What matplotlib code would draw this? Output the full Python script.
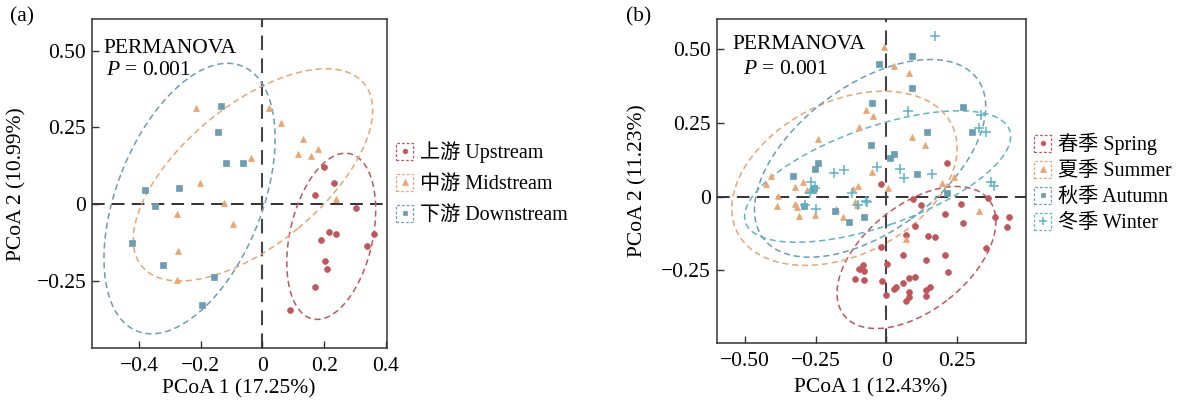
import numpy as np
import matplotlib
matplotlib.use('Agg')
import matplotlib.pyplot as plt
from matplotlib.lines import Line2D
from matplotlib.patches import Rectangle
from matplotlib.legend_handler import HandlerBase

plt.rcParams['font.family'] = ['Liberation Serif', 'Noto Sans CJK SC']
plt.rcParams['mathtext.fontset'] = 'custom'
plt.rcParams['mathtext.rm'] = 'Liberation Serif'
plt.rcParams['mathtext.it'] = 'Liberation Serif:italic'

# ---------------- Panel (a): river reaches ----------------
reach_labels = ['上游 Upstream', '中游 Midstream', '下游 Downstream']
up_x = [0.198, 0.231, 0.169, 0.304, 0.216, 0.239, 0.191, 0.361, 0.340, 0.204, 0.208, 0.169, 0.088]
up_y = [0.120, 0.067, 0.030, -0.012, -0.092, -0.098, -0.117, -0.096, -0.136, -0.185, -0.210, -0.271, -0.345]
mid_x = [-0.214, 0.020, 0.059, 0.130, 0.115, 0.158, 0.179, -0.037, -0.203, -0.125, -0.277, -0.095, -0.275, -0.276, 0.237]
mid_y = [0.312, 0.313, 0.265, 0.213, 0.162, 0.156, 0.180, 0.150, 0.068, 0.004, -0.034, -0.066, -0.152, -0.248, 0.016]
down_x = [-0.135, -0.145, -0.119, -0.063, -0.269, -0.379, -0.349, -0.422, -0.323, -0.157, -0.195]
down_y = [0.320, 0.236, 0.135, 0.135, 0.051, 0.045, -0.007, -0.127, -0.198, -0.237, -0.328]

# ---------------- Panel (b): seasons ----------------
season_labels = ['春季 Spring', '夏季 Summer', '秋季 Autumn', '冬季 Winter']
spring_x = [-0.018, 0.216, 0.094, 0.121, 0.263, 0.360, 0.209, 0.270, 0.384, 0.434, 0.428, 0.101, 0.071,
            0.148, 0.173, -0.020, 0.351, 0.059, 0.140, 0.209, 0.002, 0.219, -0.014, 0.059, 0.082, 0.101,
            0.033, 0.029, 0.156, 0.139, 0.081, 0.081, 0.071, 0.139, 0.000, -0.081, -0.097, -0.078, -0.109, -0.080]
spring_y = [0.043, 0.113, -0.008, -0.027, -0.025, -0.005, -0.058, -0.088, -0.068, -0.068, -0.104, -0.101, -0.131,
            -0.132, -0.136, -0.171, -0.173, -0.199, -0.214, -0.199, -0.227, -0.257, -0.285, -0.292, -0.277, -0.272,
            -0.305, -0.312, -0.305, -0.316, -0.322, -0.339, -0.354, -0.337, -0.334, -0.233, -0.246, -0.253, -0.278, -0.282]
summer_x = [-0.008, 0.026, 0.081, -0.073, -0.047, -0.098, -0.242, 0.091, 0.138, -0.408, -0.424, -0.381, -0.385,
            -0.321, -0.295, -0.322, -0.317, -0.307, -0.281, -0.251, -0.177, -0.153, -0.116, -0.101, -0.111, -0.103,
            -0.051, 0.006, 0.197, 0.238, 0.328, 0.070]
summer_y = [0.506, 0.444, 0.418, 0.295, 0.273, 0.237, 0.195, 0.201, 0.175, 0.071, 0.042, 0.003, -0.031,
            0.034, 0.051, -0.025, -0.035, -0.066, 0.023, -0.062, -0.042, -0.068, 0.025, 0.036, -0.017, -0.029,
            0.085, 0.028, 0.047, 0.068, -0.050, -0.145]
autumn_x = [-0.027, 0.091, 0.091, -0.050, 0.272, 0.304, 0.144, -0.055, 0.027, 0.012, 0.110, 0.216,
            -0.328, -0.252, -0.242, -0.259, -0.256, -0.292, -0.180, -0.132, -0.080]
autumn_y = [0.450, 0.477, 0.367, 0.319, 0.303, 0.218, 0.219, 0.175, 0.144, 0.132, 0.078, 0.012,
            0.071, 0.094, 0.115, 0.023, 0.030, -0.031, -0.047, -0.085, -0.068]
winter_x = [0.171, 0.077, 0.334, 0.328, 0.351, -0.032, 0.050, 0.064, 0.163, -0.183, -0.151, -0.265,
            -0.253, -0.271, -0.289, -0.248, -0.121, -0.101, -0.073, -0.067, 0.369, 0.380]
winter_y = [0.545, 0.292, 0.277, 0.232, 0.220, 0.102, 0.094, 0.062, 0.078, 0.079, 0.092, 0.049,
            0.031, 0.011, -0.028, -0.041, 0.011, -0.028, -0.015, -0.017, 0.049, 0.035]

RED, ORANGE, STEEL, CYAN = '#c0565b', '#eba56f', '#6b9db3', '#5bb4cb'


def robust_t_cov(pts, nu=5, tol=1e-4, maxit=50):
    """Multivariate-t location/scale estimate (iteratively reweighted)."""
    n, p = pts.shape
    loc = pts.mean(axis=0)
    w = np.ones(n)
    for _ in range(maxit):
        w0 = w
        X = pts - loc
        S = (X * (w / w.sum())[:, None]).T @ X
        Q = np.einsum('ij,jk,ik->i', X, np.linalg.inv(S), X)
        w = (nu + p) / (nu + Q)
        loc = (w[:, None] * pts).sum(axis=0) / w.sum()
        if np.all(np.abs(w - w0) < tol):
            break
    X = pts - loc
    cov = (X * w[:, None]).T @ X / n
    return loc, cov


def ellipse_path(x, y, level=0.90, npts=240):
    """Confidence ellipse: robust centre/scatter and an F(2, n-1) radius."""
    pts = np.column_stack([x, y])
    n = len(pts)
    loc, cov = robust_t_cov(pts)
    d2 = n - 1
    fq = d2 / 2.0 * ((1 - level) ** (-2.0 / d2) - 1)
    r = np.sqrt(2 * fq)
    vals, vecs = np.linalg.eigh(cov)
    t = np.linspace(0, 2 * np.pi, npts)
    circ = np.vstack([np.cos(t), np.sin(t)])
    e = vecs @ (np.sqrt(vals)[:, None] * circ) * r
    return loc[0] + e[0], loc[1] + e[1]


class DashedKey(HandlerBase):
    def create_artists(self, legend, orig_handle, xdescent, ydescent,
                       width, height, fontsize, trans):
        c = orig_handle.get_color()
        side = height * 1.05
        x0 = -xdescent + (width - side) / 2
        y0 = -ydescent + (height - side) / 2
        rect = Rectangle((x0, y0), side, side, fill=False, edgecolor=c,
                         linestyle=(0, (2.2, 1.6)), linewidth=0.9, transform=trans)
        mk = Line2D([x0 + side / 2], [y0 + side / 2], marker=orig_handle.get_marker(),
                    markersize=orig_handle.get_markersize() * 0.8, color=c, linestyle='none',
                    markeredgewidth=orig_handle.get_markeredgewidth(), transform=trans)
        return [rect, mk]


def style_axes(ax, xticks, xlabels, yticks, ylabels):
    ax.set_xticks(xticks)
    ax.set_xticklabels(xlabels)
    ax.set_yticks(yticks)
    ax.set_yticklabels(ylabels)
    ax.tick_params(direction='in', length=5, width=1.0, color='#333333', labelsize=15.5)
    ax.tick_params(axis='x', pad=6.5)
    ax.tick_params(axis='y', pad=4)
    for s in ax.spines.values():
        s.set_color('#333333')
        s.set_linewidth(1.1)
    ax.axhline(0, color='#222222', lw=1.3, ls=(0, (7, 4)), zorder=1)
    ax.axvline(0, color='#444444', lw=1.5, ls=(0, (7, 4)), zorder=1)


fig = plt.figure(figsize=(11.88, 4.01), dpi=100)
W, H = 1188, 401


def add_axes_px(left, right, top, bottom):
    return fig.add_axes([left / W, 1 - bottom / H, (right - left) / W, (bottom - top) / H])


# ---- panel (a)
axa = add_axes_px(91.7, 386.5, 19, 348.3)
groups_a = [(up_x, up_y, RED, 'o', 4.2, 0.5),
            (mid_x, mid_y, ORANGE, '^', 4.6, 0.5),
            (down_x, down_y, STEEL, 's', 4.0, 0.5)]
handles_a = []
for (gx, gy, c, m, ms, mew), lab in zip(groups_a, reach_labels):
    ex, ey = ellipse_path(gx, gy)
    axa.plot(ex, ey, color=c, lw=1.1, ls=(0, (4, 2.5)), zorder=2)
    axa.plot(gx, gy, linestyle='none', marker=m, markersize=ms, color=c,
             markeredgewidth=mew, zorder=3)
    handles_a.append(Line2D([], [], marker=m, markersize=ms, color=c, linestyle='none',
                            markeredgewidth=mew, label=lab))
axa.set_xlim(-0.553, 0.402)
axa.set_ylim(-0.470, 0.603)
style_axes(axa, [-0.4, -0.2, 0, 0.2, 0.4], ['\u22120.4', '\u22120.2', '0', '0.2', '0.4'],
           [-0.25, 0, 0.25, 0.5], ['\u22120.25', '0', '0.25', '0.50'])
axa.set_xlabel('PCoA 1 (17.25%)', fontsize=15.5)
axa.set_ylabel('PCoA 2 (10.99%)', fontsize=15.5)
axa.xaxis.set_label_coords(0.5, -0.093)
axa.yaxis.set_label_coords(-0.222, 0.5)
axa.text(0.04, 0.94, 'PERMANOVA', transform=axa.transAxes, fontsize=15.5, va='top', ha='left')
axa.text(0.05, 0.872, r'$P$ = 0.001', transform=axa.transAxes, fontsize=15.5, va='top', ha='left')
fig.legend(handles=handles_a, handler_map={Line2D: DashedKey()}, loc='center left',
           bbox_to_anchor=(396 / W, 1 - 183.5 / H), frameon=False, fontsize=14.5,
           handlelength=0.85, handleheight=0.85, handletextpad=0.35, labelspacing=0.55,
           borderpad=0, borderaxespad=0)

# ---- panel (b)
axb = add_axes_px(716.5, 1025.5, 18.5, 343)
groups_b = [(spring_x, spring_y, RED, 'o', 4.2, 0.5),
            (summer_x, summer_y, ORANGE, '^', 4.6, 0.5),
            (autumn_x, autumn_y, STEEL, 's', 4.0, 0.5),
            (winter_x, winter_y, CYAN, '+', 7.0, 1.1)]
handles_b = []
for (gx, gy, c, m, ms, mew), lab in zip(groups_b, season_labels):
    ex, ey = ellipse_path(gx, gy)
    axb.plot(ex, ey, color=c, lw=1.1, ls=(0, (4, 2.5)), zorder=2)
    axb.plot(gx, gy, linestyle='none', marker=m, markersize=ms, color=c,
             markeredgewidth=mew, zorder=3)
    handles_b.append(Line2D([], [], marker=m, markersize=ms, color=c, linestyle='none',
                            markeredgewidth=mew, label=lab))
axb.set_xlim(-0.600, 0.492)
axb.set_ylim(-0.496, 0.604)
style_axes(axb, [-0.5, -0.25, 0, 0.25], ['\u22120.50', '\u22120.25', '0', '0.25'],
           [-0.25, 0, 0.25, 0.5], ['\u22120.25', '0', '0.25', '0.50'])
axb.set_xlabel('PCoA 1 (12.43%)', fontsize=15.5)
axb.set_ylabel('PCoA 2 (11.23%)', fontsize=15.5)
axb.xaxis.set_label_coords(0.5, -0.108)
axb.yaxis.set_label_coords(-0.222, 0.5)
axb.text(0.05, 0.95, 'PERMANOVA', transform=axb.transAxes, fontsize=15.5, va='top', ha='left')
axb.text(0.085, 0.872, r'$P$ = 0.001', transform=axb.transAxes, fontsize=15.5, va='top', ha='left')
fig.legend(handles=handles_b, handler_map={Line2D: DashedKey()}, loc='center left',
           bbox_to_anchor=(1034 / W, 1 - 183 / H), frameon=False, fontsize=14.5,
           handlelength=0.85, handleheight=0.85, handletextpad=0.35, labelspacing=0.3,
           borderpad=0, borderaxespad=0)

fig.text(10 / W, 1 - 17 / H, '(a)', fontsize=15.5, va='center', ha='left')
fig.text(626 / W, 1 - 17 / H, '(b)', fontsize=15.5, va='center', ha='left')

fig.savefig('out.png', dpi=100)
